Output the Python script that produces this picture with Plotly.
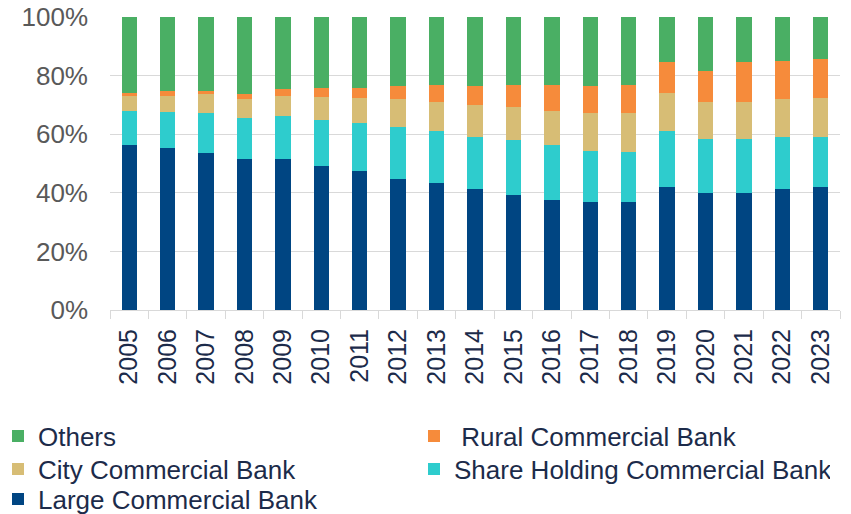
import plotly.graph_objects as go

years = [str(y) for y in range(2005, 2024)]
large = [56.3, 55.4, 53.6, 51.4, 51.4, 49.2, 47.4, 44.8, 43.5, 41.3, 39.1, 37.4, 36.9, 36.9, 42.1, 40.0, 40.0, 41.3, 42.1]
share = [11.7, 12.1, 13.6, 14.0, 14.9, 15.7, 16.3, 17.5, 17.5, 17.9, 18.9, 18.9, 17.5, 17.1, 18.9, 18.4, 18.4, 17.6, 17.1]
city = [5.2, 5.7, 6.5, 6.6, 6.9, 7.9, 8.7, 9.7, 10.1, 10.6, 11.4, 11.7, 12.7, 13.1, 13.1, 12.7, 12.7, 13.1, 13.2]
rural = [0.9, 1.4, 0.9, 1.7, 2.3, 3.1, 3.5, 4.3, 5.7, 6.5, 7.4, 8.8, 9.2, 9.7, 10.6, 10.6, 13.6, 13.1, 13.1]
others = [25.9, 25.4, 25.4, 26.3, 24.5, 24.1, 24.1, 23.7, 23.2, 23.7, 23.2, 23.2, 23.7, 23.2, 15.3, 18.3, 15.3, 14.9, 14.5]

series = [
    ("Large Commercial Bank", large, "#004582", "legend3"),
    ("Share Holding Commercial Bank", share, "#2ECCCD", "legend2"),
    ("City Commercial Bank", city, "#D7BD75", "legend2"),
    ("\u00a0Rural Commercial Bank", rural, "#F68B3B", "legend"),
    ("Others", others, "#4AAF64", "legend"),
]

fig = go.Figure()
for name, vals, color, lg in series:
    fig.add_trace(go.Bar(
        x=years, y=[v / 100 for v in vals], name=name,
        marker=dict(color=color, line=dict(width=0)),
        legend=lg,
    ))

W, H = 851, 514
ml, mr, mt, mb = 110, 11, 17, 204
pw, ph = W - ml - mr, H - mt - mb
navy = "#1C2B4A"
FAM = "Liberation Sans, Arial, sans-serif"
font_leg = dict(family=FAM, size=26, color=navy)

def lx(px):
    return (px - ml) / pw

def ly(py):
    return (H - mb - py) / ph

leg_common = dict(orientation="h", xanchor="left", yanchor="middle",
                  font=font_leg, entrywidth=371, entrywidthmode="pixels",
                  bgcolor="rgba(0,0,0,0)", borderwidth=0,
                  traceorder="reversed", itemclick=False)

fig.update_layout(
    width=W, height=H,
    margin=dict(l=ml, r=mr, t=mt, b=mb, autoexpand=False),
    paper_bgcolor="white", plot_bgcolor="white",
    barmode="stack", bargap=0.6,
    font=dict(family=FAM),
    legend=dict(x=lx(-2), y=ly(436), **leg_common),
    legend2=dict(x=lx(-2), y=ly(469), **leg_common),
    legend3=dict(x=lx(-2), y=ly(499), **leg_common),
    xaxis=dict(
        type="category", tickangle=-90, tickson="boundaries",
        ticks="outside", ticklen=8, tickcolor="#D9D9D9", tickwidth=1,
        showline=True, linecolor="#D9D9D9", linewidth=1,
        showgrid=False, ticklabelstandoff=8, automargin=False,
        tickfont=dict(family=FAM, size=25, color=navy),
    ),
    yaxis=dict(
        range=[0, 1], dtick=0.2, tickformat=".0%",
        showgrid=True, gridcolor="#D9D9D9", gridwidth=1,
        zeroline=False, showline=False, ticks="",
        ticklabelstandoff=21, automargin=False,
        tickfont=dict(family=FAM, size=26, color="#595959"),
    ),
)

fig.write_html("out.html", config={"displayModeBar": False},
               post_script="document.body.style.margin='0';")
